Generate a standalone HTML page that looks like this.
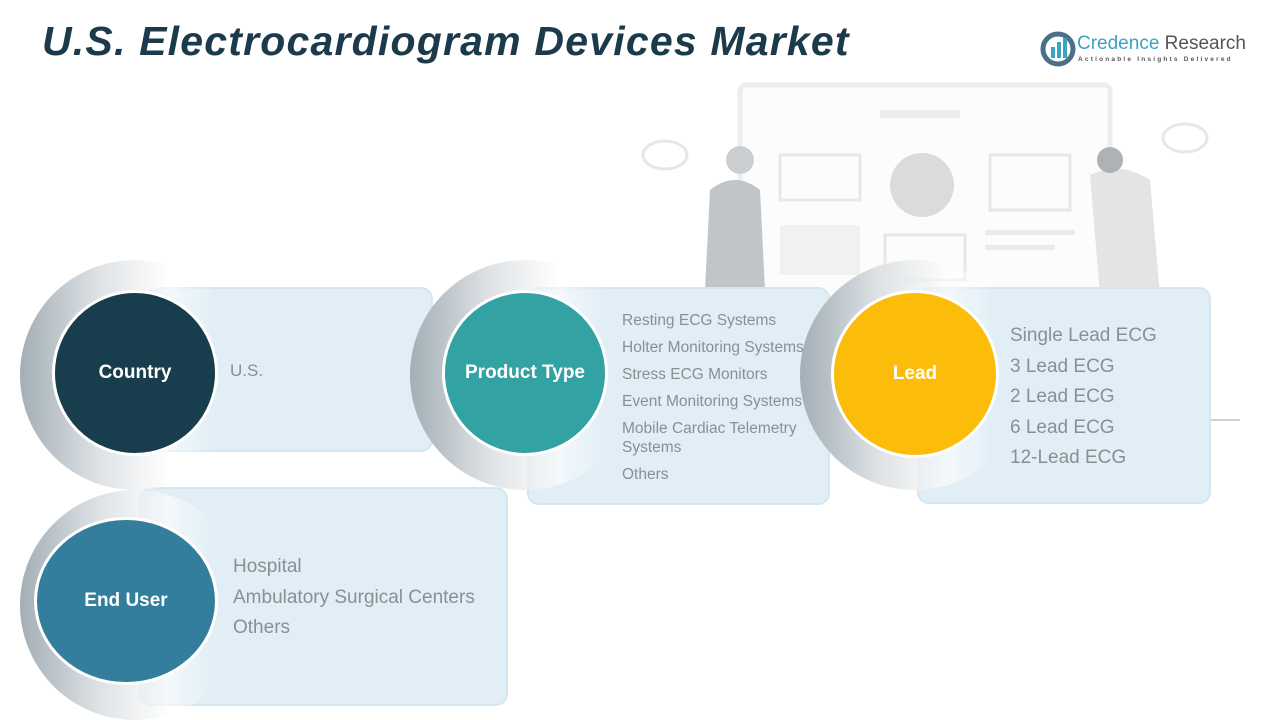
<!DOCTYPE html>
<html><head><meta charset="utf-8"><style>
body{margin:0;width:1280px;height:720px;background:#fff;position:relative;overflow:hidden;font-family:"Liberation Sans",sans-serif}
.abs{position:absolute}
.title{left:42px;top:18px;font-size:41px;font-weight:bold;font-style:italic;color:#1b3a4b;letter-spacing:1.2px}
.card{position:absolute;background:#e1eef6;border:2px solid #d6e6f0;border-radius:12px;box-sizing:border-box}
.ring{position:absolute;border-radius:50%;background:linear-gradient(90deg,#a3aeb6 0%,#dfe3e6 35%,rgba(255,255,255,0.6) 65%,rgba(255,255,255,0) 85%)}
.circ{position:absolute;border-radius:50%;border:3px solid #fff;box-sizing:border-box;color:#fff;font-weight:bold;font-size:19px;display:flex;align-items:center;justify-content:center}
.items{position:absolute;color:#8a8f94;line-height:27px}
</style></head><body>
<div class="abs title">U.S. Electrocardiogram Devices Market</div>
<svg class="abs" style="left:1040px;top:30px" width="40" height="38"><circle cx="18" cy="19" r="15" fill="none" stroke="#4a6f86" stroke-width="5"/><rect x="11" y="17" width="4" height="11" fill="#3aa3c0"/><rect x="17" y="12" width="4" height="16" fill="#3aa3c0"/><rect x="23" y="8" width="4" height="20" fill="#3aa3c0"/></svg>
<div class="abs" style="left:1077px;top:33px;font-size:19px;color:#3aa3c0">Credence <span style="color:#555">Research</span></div>
<div class="abs" style="left:1078px;top:56px;font-size:6.5px;letter-spacing:2.2px;color:#555;font-weight:bold">Actionable Insights Delivered</div>
<svg class="abs" style="left:630px;top:80px" width="620" height="350" opacity="0.7">
<rect x="110" y="5" width="370" height="240" rx="6" fill="#fbfbfb" stroke="#e6e6e6" stroke-width="5"/>
<rect x="250" y="30" width="80" height="8" fill="#e4e4e4"/>
<rect x="150" y="75" width="80" height="45" fill="none" stroke="#ddd" stroke-width="3"/>
<circle cx="292" cy="105" r="32" fill="#c9cdd0"/>
<rect x="360" y="75" width="80" height="55" fill="none" stroke="#ddd" stroke-width="3"/>
<rect x="150" y="145" width="80" height="50" fill="#ececec"/>
<rect x="255" y="155" width="80" height="45" fill="none" stroke="#ddd" stroke-width="3"/>
<rect x="355" y="150" width="90" height="5" fill="#e2e2e2"/><rect x="355" y="165" width="70" height="5" fill="#e2e2e2"/>
<ellipse cx="35" cy="75" rx="22" ry="14" fill="none" stroke="#ddd" stroke-width="3"/>
<ellipse cx="555" cy="58" rx="22" ry="14" fill="none" stroke="#ddd" stroke-width="3"/>
<path d="M80 110 q25 -20 50 0 l5 100 h-60z" fill="#a8adb1"/>
<circle cx="110" cy="80" r="14" fill="#b7bbbe"/>
<path d="M460 95 q30 -15 60 5 l10 115 h-60z" fill="#d6d9db"/>
<circle cx="480" cy="80" r="13" fill="#8d9296"/>
<line x1="480" y1="340" x2="610" y2="340" stroke="#bbb" stroke-width="2"/>
</svg>
<div class="card" style="left:150px;top:287px;width:283px;height:165px"></div>
<div class="card" style="left:527px;top:287px;width:303px;height:218px"></div>
<div class="card" style="left:917px;top:287px;width:294px;height:217px"></div>
<div class="card" style="left:139px;top:487px;width:369px;height:219px"></div>
<div class="ring" style="left:20px;top:260px;width:230px;height:230px"></div>
<div class="ring" style="left:410px;top:260px;width:230px;height:230px"></div>
<div class="ring" style="left:800px;top:260px;width:230px;height:230px"></div>
<div class="ring" style="left:20px;top:490px;width:230px;height:230px"></div>
<div class="circ" style="left:52px;top:290px;width:166px;height:166px;background:#183d4c">Country</div>
<div class="circ" style="left:442px;top:290px;width:166px;height:166px;background:#33a2a3">Product Type</div>
<div class="circ" style="left:831px;top:290px;width:168px;height:168px;background:#fbbd0a">Lead</div>
<div class="circ" style="left:34px;top:517px;width:184px;height:168px;background:#327e9c">End User</div>
<div class="items" style="left:230px;top:357px;font-size:17px">U.S.</div>
<div class="items" style="left:622px;top:307px;font-size:15.5px;width:210px"><div>Resting ECG Systems</div><div>Holter Monitoring Systems</div><div>Stress ECG Monitors</div><div>Event Monitoring Systems</div><div style="line-height:19px;margin:4px 0 4px">Mobile Cardiac Telemetry Systems</div><div>Others</div></div>
<div class="items" style="left:1010px;top:321px;font-size:19px;line-height:30.5px"><div>Single Lead ECG</div><div>3 Lead ECG</div><div>2 Lead ECG</div><div>6 Lead ECG</div><div>12-Lead ECG</div></div>
<div class="items" style="left:233px;top:552px;font-size:19px;line-height:30.5px"><div>Hospital</div><div>Ambulatory Surgical Centers</div><div>Others</div></div>
</body></html>
